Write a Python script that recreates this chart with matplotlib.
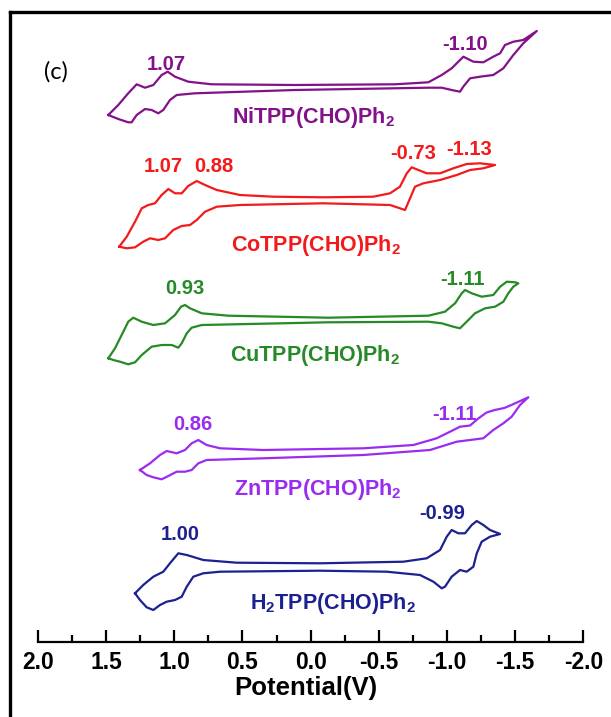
import numpy as np
import matplotlib
matplotlib.use('Agg')
import matplotlib.pyplot as plt
from matplotlib.lines import Line2D

plt.rcParams['font.family'] = ['Liberation Sans', 'DejaVu Sans']
plt.rcParams['mathtext.fontset'] = 'custom'
plt.rcParams['mathtext.rm'] = 'Liberation Sans'
plt.rcParams['mathtext.bf'] = 'Liberation Sans:bold'

# Cyclic voltammograms, potential (V) and current (a.u., stacked for clarity)
# each loop: forward scan then the return scan
e_ni = [1.483, 1.410, 1.337, 1.275, 1.214, 1.153, 1.092, 1.048, 0.994, 0.897, 0.725, 0.114,
        -0.619, -0.863, -0.961, -1.034, -1.120, -1.193, -1.266, -1.339, -1.389, -1.425,
        -1.486, -1.559, -1.658,
        -1.559, -1.486, -1.413, -1.339, -1.242, -1.169, -1.120, -1.095, -1.034, -0.961, -0.863,
        0.114, 0.848, 0.982, 1.031, 1.080, 1.117, 1.165, 1.214, 1.275, 1.312, 1.337, 1.410]
i_ni = [534.5, 544.5, 556.2, 565.2, 561.8, 564.5, 574.5, 577.8, 572.8, 567.8, 565.2, 564.5,
        565.2, 567.2, 574.5, 581.2, 592.8, 587.8, 587.2, 592.8, 596.2, 604.5,
        607.8, 609.5, 618.5,
        606.2, 594.5, 581.2, 574.5, 572.8, 571.2, 563.0, 557.8, 559.5, 561.8, 561.8,
        559.5, 556.2, 554.5, 549.5, 539.5, 536.2, 539.5, 540.5, 534.5, 527.2, 527.2, 530.5]

e_co = [1.403, 1.348, 1.287, 1.238, 1.190, 1.141, 1.092, 1.043, 0.994, 0.945, 0.897, 0.835,
        0.774, 0.688, 0.518, 0.273, -0.093, -0.460, -0.582, -0.655, -0.705, -0.741, -0.790,
        -0.851, -0.949, -1.046, -1.144, -1.242, -1.352,
        -1.266, -1.169, -1.071, -0.949, -0.826, -0.765, -0.729, -0.692, -0.655, -0.582, -0.093,
        0.518, 0.688, 0.774, 0.835, 0.884, 0.945, 1.007, 1.067, 1.117, 1.177, 1.227, 1.287, 1.348]
i_co = [402.8, 412.8, 427.8, 441.2, 444.5, 446.2, 454.5, 460.5, 456.2, 456.2, 463.5, 468.5,
        464.5, 459.5, 454.5, 452.8, 452.2, 452.8, 456.2, 462.8, 476.2, 482.2, 479.5,
        476.2, 476.2, 481.2, 485.5, 486.2, 484.5,
        481.2, 479.5, 474.5, 469.5, 466.2, 462.8, 451.2, 439.5, 441.2, 444.5, 446.2,
        444.5, 442.8, 437.8, 429.5, 424.5, 423.5, 419.5, 411.2, 409.5, 411.2, 407.8, 402.2, 401.2]

e_cu = [1.483, 1.434, 1.373, 1.337, 1.300, 1.238, 1.153, 1.067, 0.994, 0.950, 0.921, 0.884,
        0.798, 0.603, -0.130, -0.863, -0.985, -1.059, -1.108, -1.132, -1.181, -1.254, -1.339,
        -1.389, -1.438, -1.499, -1.523,
        -1.486, -1.449, -1.413, -1.352, -1.279, -1.205, -1.144, -1.095, -1.046, -0.961, -0.863,
        -0.130, 0.798, 0.872, 0.908, 0.945, 0.970, 1.018, 1.092, 1.165, 1.238, 1.287, 1.337,
        1.397, 1.446]
i_cu = [291.2, 301.2, 317.8, 327.8, 331.8, 327.8, 324.5, 326.2, 334.5, 342.8, 344.5, 341.2,
        336.2, 333.8, 331.8, 333.8, 337.8, 346.2, 356.2, 359.5, 356.2, 352.8, 354.5,
        362.8, 367.8, 367.2, 366.2,
        362.8, 356.2, 347.8, 342.8, 341.2, 336.2, 327.8, 321.2, 322.8, 326.2, 327.8,
        327.2, 324.5, 321.8, 316.2, 306.2, 301.8, 304.5, 304.5, 302.8, 294.5, 287.2, 285.2,
        287.8, 289.5]

e_zn = [1.251, 1.177, 1.104, 1.055, 0.982, 0.921, 0.872, 0.823, 0.762, 0.664, 0.347, -0.386,
        -0.753, -0.924, -1.022, -1.095, -1.169, -1.229, -1.290, -1.350, -1.420, -1.480, -1.596,
        -1.535, -1.474, -1.413, -1.339, -1.266, -1.169, -1.071, -0.875, -0.386, 0.347, 0.762,
        0.823, 0.872, 0.921, 0.982, 1.043, 1.092, 1.153, 1.202]
i_zn = [179.5, 186.2, 194.5, 198.5, 196.2, 199.5, 206.2, 209.5, 204.5, 201.2, 199.5, 201.2,
        204.5, 211.2, 217.8, 222.8, 224.0, 231.0, 237.0, 239.5, 241.5, 245.0, 252.2,
        244.5, 232.8, 226.2, 219.5, 211.2, 209.5, 207.8, 199.5, 194.5, 191.2, 189.5,
        186.2, 179.5, 177.8, 177.8, 173.5, 170.2, 172.2, 174.5]

e_h2 = [1.287, 1.227, 1.153, 1.080, 1.031, 0.970, 0.908, 0.787, 0.542, -0.069, -0.680, -0.851,
        -0.949, -0.998, -1.034, -1.083, -1.132, -1.181, -1.218, -1.266, -1.315, -1.389,
        -1.315, -1.254, -1.218, -1.193, -1.144, -1.095, -1.034, -0.985, -0.961, -0.900, -0.802,
        -0.558, -0.069, 0.664, 0.787, 0.860, 0.908, 0.945, 0.994, 1.055, 1.104, 1.153, 1.202,
        1.251]
i_h2 = [56.2, 64.5, 72.8, 77.8, 86.2, 96.2, 94.5, 89.5, 86.8, 86.2, 87.8, 91.2,
        99.5, 112.8, 119.5, 116.2, 116.2, 124.5, 128.5, 124.5, 119.5, 115.5,
        112.8, 107.8, 96.2, 82.8, 77.8, 79.5, 72.8, 62.8, 61.2, 67.8, 74.5,
        77.8, 78.8, 77.8, 76.2, 72.8, 62.8, 52.8, 49.5, 47.8, 44.5, 39.5, 42.2,
        49.5]

curves = [(e_ni, i_ni), (e_co, i_co), (e_cu, i_cu), (e_zn, i_zn), (e_h2, i_h2)]
colors = ['#83128a', '#f21a1a', '#268a26', '#9a2cf0', '#1c2190']

tick_vals = [2.0, 1.5, 1.0, 0.5, 0.0, -0.5, -1.0, -1.5, -2.0]
tick_labels = ['2.0', '1.5', '1.0', '0.5', '0.0', '-0.5', '-1.0', '-1.5', '-2.0']

fig = plt.figure(figsize=(6.11, 7.17), dpi=100)
ax = fig.add_axes([0, 75.3 / 717, 1, 641.7 / 717])

for (e, cur), c in zip(curves, colors):
    ax.plot(np.append(e, e[0]), np.append(cur, cur[0]), color=c, lw=1.6,
            solid_joinstyle='round')

ax.set_xlim(2.277, -2.202)
ax.set_ylim(7.8, 649.5)
for s in ['left', 'right', 'top']:
    ax.spines[s].set_visible(False)
ax.spines['bottom'].set_bounds(-2, 2)
ax.spines['bottom'].set_linewidth(1.6)
ax.set_yticks([])
ax.set_xticks(tick_vals)
ax.set_xticklabels(tick_labels, fontsize=16.5, fontweight='bold')
ax.set_xticks(np.arange(-1.75, 2, 0.5), minor=True)
ax.tick_params(axis='x', which='major', direction='in', length=9, width=1.6, pad=7)
ax.tick_params(axis='x', which='minor', direction='in', length=5, width=1.6)
ax.set_xlabel('Potential(V)', fontsize=18.5, fontweight='bold', labelpad=1)
ax.patch.set_alpha(0)

kw = dict(ha='center', va='center', fontsize=14.5, fontweight='bold')
kn = dict(ha='center', va='center', fontsize=15.5, fontweight='bold')
# NiTPP
ax.text(1.056, 584.5, '1.07', color=colors[0], **kw)
ax.text(-1.132, 605, '-1.10', color=colors[0], **kw)
ax.text(-0.018, 531.5, r'NiTPP(CHO)Ph$_\mathbf{2}$', color=colors[0], **kn)
# CoTPP
ax.text(1.078, 482.5, '1.07', color=colors[1], **kw)
ax.text(0.708, 482.5, '0.88', color=colors[1], **kw)
ax.text(-0.754, 496, '-0.73', color=colors[1], **kw)
ax.text(-1.165, 500, '-1.13', color=colors[1], **kw)
ax.text(-0.043, 403.5, r'CoTPP(CHO)Ph$_\mathbf{2}$', color=colors[1], **kn)
# CuTPP
ax.text(0.921, 361, '0.93', color=colors[2], **kw)
ax.text(-1.117, 370, '-1.11', color=colors[2], **kw)
ax.text(-0.032, 293.5, r'CuTPP(CHO)Ph$_\mathbf{2}$', color=colors[2], **kn)
# ZnTPP
ax.text(0.862, 225, '0.86', color=colors[3], **kw)
ax.text(-1.055, 234.5, '-1.11', color=colors[3], **kw)
ax.text(-0.054, 160.5, r'ZnTPP(CHO)Ph$_\mathbf{2}$', color=colors[3], **kn)
# H2TPP
ax.text(0.957, 115, '1.00', color=colors[4], **kw)
ax.text(-0.967, 136, '-0.99', color=colors[4], **kw)
ax.text(-0.166, 45.5, r'H$_\mathbf{2}$TPP(CHO)Ph$_\mathbf{2}$', color=colors[4], **kn)

fig.text(55.5 / 611, 1 - 72 / 717, '(c)', ha='center', va='center', fontsize=17,
         family=['Lato', 'DejaVu Sans'])

# frame lines on the left and top of the panel
fig.add_artist(Line2D([10 / 611, 10 / 611], [0, 1 - 12 / 717], transform=fig.transFigure,
                      color='black', lw=2.4))
fig.add_artist(Line2D([10 / 611, 1], [1 - 12 / 717, 1 - 12 / 717], transform=fig.transFigure,
                      color='black', lw=2.4))

fig.savefig('out.png', dpi=100)
